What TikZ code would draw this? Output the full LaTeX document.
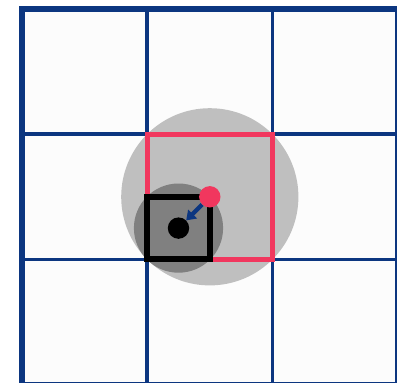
\documentclass[tikz,border=0pt]{standalone}
\usetikzlibrary{arrows.meta}
\definecolor{gridblue}{RGB}{12,54,128}
\definecolor{redsq}{RGB}{241,55,94}
\definecolor{cellbg}{RGB}{252,252,252}
\definecolor{lightc}{RGB}{191,191,191}
\definecolor{darkc}{RGB}{128,128,128}
\tikzset{
  innerline/.style={draw=gridblue,line width=3.8pt},
  outerline/.style={draw=gridblue,line width=5.7pt},
  dotstyle/.style={circle,inner sep=0pt,minimum size=21.4pt},
  movearrow/.style={draw=gridblue,line width=4.2pt,-{Triangle[length=9pt,width=12pt]}}
}
\begin{document}
\begin{tikzpicture}[x=1pt,y=-1pt]
\useasboundingbox (0,0) rectangle (397,383);
\fill[white] (0,0) rectangle (397,383);
\fill[cellbg] (22,9) rectangle (397.6,384.6);
% inner grid lines
\foreach \i in {1,2}{
  \draw[innerline] ({22+125.2*\i},9) -- ({22+125.2*\i},384.6);
  \draw[innerline] (22,{9+125.2*\i}) -- (397.6,{9+125.2*\i});
}
\draw[outerline] (22,9) rectangle (397.6,384.6);
% big circle circumscribing centre cell
\fill[lightc] (209.8,196.8) circle (88.6);
% red square = centre cell
\draw[draw=redsq,line width=5pt] (147.2,134.2) rectangle (272.4,259.4);
% dark circle circumscribing lower-left quadrant
\fill[darkc] (178.5,228.1) circle (44.6);
\draw[fill=darkc,draw=black,line width=6pt] (147.2,196.8) rectangle (209.8,259.4);
\node[dotstyle,fill=black] (blackdot) at (178.5,228.1) {};
\node[dotstyle] (reddot) at (209.8,196.8) {};
\draw[movearrow] (reddot) -- (blackdot);
\fill[redsq] (reddot.center) circle (10.7);
\end{tikzpicture}
\end{document}
